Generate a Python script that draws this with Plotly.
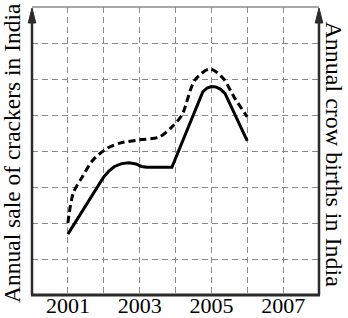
import plotly.graph_objects as go

# ---- data ----
crackers_years = [2001.0, 2001.15, 2001.4, 2001.7, 2002.1, 2002.45, 2003.0, 2003.55,
                  2003.9, 2004.18, 2004.54, 2004.96, 2005.32, 2005.65, 2006.0]
crackers_vals = [2.0, 2.83, 3.28, 3.75, 4.08, 4.22, 4.31, 4.39,
                 4.67, 5.0, 5.97, 6.28, 6.03, 5.47, 4.95]

crow_years = [2001.0, 2002.0, 2002.15, 2002.3, 2002.5, 2002.7, 2002.9, 2003.05, 2003.2,
              2003.9, 2004.76, 2004.88, 2005.0, 2005.12, 2005.25, 2005.38, 2006.0]
crow_vals = [1.69, 3.28, 3.45, 3.57, 3.65, 3.67, 3.64, 3.57, 3.55,
             3.55, 5.64, 5.75, 5.79, 5.78, 5.72, 5.6, 4.28]

x_grid_vals = [2001, 2002, 2003, 2004, 2005, 2006, 2007]
x_tick_text = ["2001", "", "2003", "", "2005", "", "2007"]
y_grid_vals = [1, 2, 3, 4, 5, 6, 7]

left_title = "Annual sale of crackers in India"
right_title = "Annual crow births in India"

W, H = 348, 318
L, R, T, B = 32, 29, 7, 23
pw, ph = W - L - R, H - T - B

def px(x):
    return (x - L) / pw

def py(y):
    return (H - B - y) / ph

fig = go.Figure()
fig.add_trace(go.Scatter(x=crackers_years, y=crackers_vals, mode="lines",
                         line=dict(color="black", width=3, dash="7px,4px", shape="spline", smoothing=0.8),
                         hoverinfo="skip", showlegend=False))
fig.add_trace(go.Scatter(x=crow_years, y=crow_vals, mode="lines",
                         line=dict(color="black", width=3),
                         hoverinfo="skip", showlegend=False))

grid_color = "#8a8a8a"
fig.update_xaxes(range=[2000, 2008], tickvals=x_grid_vals, ticktext=x_tick_text,
                 showgrid=True, gridcolor=grid_color, griddash="6px,4px", gridwidth=1,
                 zeroline=False, showline=False, ticks="", automargin=False,
                 ticklabelstandoff=-5,
                 tickfont=dict(family="Liberation Serif", size=22, color="black"))
fig.update_yaxes(range=[0, 8], tickvals=y_grid_vals, showticklabels=False,
                 showgrid=True, gridcolor=grid_color, griddash="6px,4px", gridwidth=1,
                 zeroline=False, showline=False, ticks="", automargin=False)

axis_color = "#2b2b2b"
shapes = [
    # top border
    dict(type="line", xref="paper", yref="paper", x0=0, x1=1, y0=py(7), y1=py(7),
         line=dict(color="#8a8a8a", width=1.5)),
    # bottom axis
    dict(type="line", xref="paper", yref="paper", x0=px(31), x1=px(320), y0=0, y1=0,
         line=dict(color=axis_color, width=3)),
    # left axis
    dict(type="line", xref="paper", yref="paper", x0=0, x1=0, y0=0, y1=py(20),
         line=dict(color=axis_color, width=2.5)),
    # right axis
    dict(type="line", xref="paper", yref="paper", x0=1, x1=1, y0=0, y1=py(20),
         line=dict(color=axis_color, width=2.5)),
]
for xa in (32, 319):
    shapes.append(dict(type="path", xref="paper", yref="paper",
                       path=f"M {px(xa)} {py(8)} L {px(xa-3.8)} {py(23)} L {px(xa+3.8)} {py(23)} Z",
                       fillcolor=axis_color, line=dict(color=axis_color, width=1)))

annotations = [
    dict(text=left_title, xref="paper", yref="paper", x=px(12), y=py(153),
         xanchor="center", yanchor="middle", textangle=-90, showarrow=False,
         font=dict(family="Liberation Serif", size=23.5, color="black")),
    dict(text=right_title, xref="paper", yref="paper", x=px(334), y=py(154.5),
         xanchor="center", yanchor="middle", textangle=90, showarrow=False,
         font=dict(family="Liberation Serif", size=24, color="black")),
]

fig.update_layout(width=W, height=H, margin=dict(l=L, r=R, t=T, b=B, pad=0, autoexpand=False),
                  plot_bgcolor="white", paper_bgcolor="white",
                  shapes=shapes, annotations=annotations, showlegend=False)

fig.write_html("out.html")
